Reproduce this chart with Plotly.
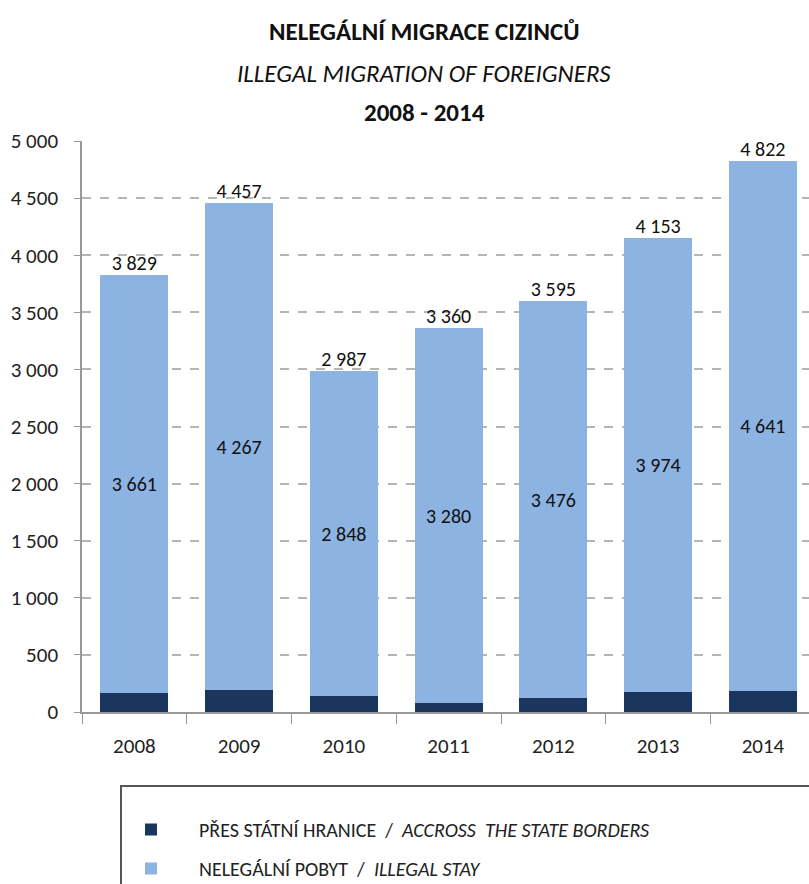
import plotly.graph_objects as go

years = ["2008", "2009", "2010", "2011", "2012", "2013", "2014"]
illegal_stay = [3661, 4267, 2848, 3280, 3476, 3974, 4641]
border_cross = [168, 190, 139, 80, 119, 179, 181]
totals = [a + b for a, b in zip(illegal_stay, border_cross)]

def fmt(v):
    return f"{v:,}".replace(",", " ")

FONT = "Carlito, Lato, sans-serif"
DARK = "#1b365e"
LIGHT = "#8db3e2"

fig = go.Figure()
fig.add_trace(go.Bar(
    x=years, y=border_cross, name="PŘES STÁTNÍ HRANICE  /  <i>ACCROSS  THE STATE BORDERS</i>",
    marker=dict(color=DARK, line=dict(width=0)), legendgroup="a",
    hoverinfo="y",
))
fig.add_trace(go.Bar(
    x=years, y=illegal_stay, name="NELEGÁLNÍ POBYT  /  <i>ILLEGAL STAY</i>",
    marker=dict(color=LIGHT, line=dict(width=0)), legendgroup="b",
    text=[fmt(v) for v in illegal_stay], textposition="inside",
    insidetextanchor="middle", textfont=dict(family=FONT, size=20, color="#111"),
    textangle=0,
))
fig.add_trace(go.Scatter(
    x=years, y=totals, mode="text", text=[fmt(v) for v in totals],
    textposition="top center", textfont=dict(family=FONT, size=20, color="#111"),
    showlegend=False, hoverinfo="skip", cliponaxis=False,
))

W, H = 809, 884
L, R, T, B = 82, 0, 141, 172
pw = W - L - R
ph = H - T - B

def px(x):
    return (x - L) / pw

def py(y):
    return (H - B - y) / ph

annos = [
    dict(text="<b>NELEGÁLNÍ MIGRACE CIZINCŮ</b>", x=px(424), y=py(32)),
    dict(text="<i>ILLEGAL MIGRATION OF FOREIGNERS</i>", x=px(424), y=py(73)),
    dict(text="<b>2008 - 2014</b>", x=px(424), y=py(113)),
]
annotations = [dict(a, xref="paper", yref="paper", showarrow=False, xanchor="center",
                    yanchor="middle", font=dict(family=FONT, size=25, color="#111"))
               for a in annos]

fig.update_layout(
    width=W, height=H,
    margin=dict(l=L, r=R, t=T, b=B, autoexpand=False),
    paper_bgcolor="white", plot_bgcolor="white",
    barmode="stack", bargap=0.35,
    separators=", ",
    font=dict(family=FONT, size=20, color="#222"),
    annotations=annotations,
    showlegend=True,
    legend=dict(
        x=px(103), y=py(810), xanchor="left", yanchor="top",
        traceorder="grouped", tracegroupgap=10, itemwidth=86,
        font=dict(family=FONT, size=20, color="#222"),
        bgcolor="rgba(0,0,0,0)", borderwidth=0,
    ),
    shapes=[dict(type="rect", xref="paper", yref="paper",
                 x0=px(121), x1=px(830), y0=py(786), y1=py(900),
                 line=dict(color="#555", width=2), fillcolor="rgba(0,0,0,0)", layer="below")],
)
fig.update_xaxes(
    range=[-0.5, 6.44], showline=True, linecolor="#999", linewidth=1.5,
    ticks="outside", tickson="boundaries", ticklen=10, tickcolor="#999",
    showgrid=False, tickfont=dict(family=FONT, size=21, color="#222"),
    ticklabelstandoff=14, fixedrange=True,
)
fig.update_yaxes(
    range=[0, 5000], dtick=500, tickformat=",d",
    showline=True, linecolor="#999", linewidth=1.5,
    ticks="outside", ticklen=6, tickcolor="#999",
    showgrid=True, gridcolor="#b5b5b5", griddash="dash", gridwidth=1.5,
    zeroline=False, tickfont=dict(family=FONT, size=21, color="#222"),
    ticklabelstandoff=12, fixedrange=True,
)

fig.write_html("out.html")
